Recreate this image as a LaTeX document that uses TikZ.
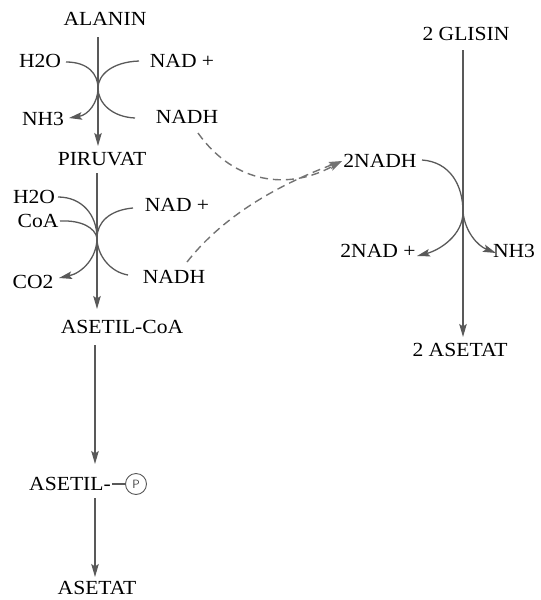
\documentclass[tikz,border=0pt]{standalone}
\usepackage{fontspec}
\setmainfont[FakeStretch=1.08]{Liberation Serif}
\usetikzlibrary{arrows.meta}
\begin{document}
\begin{tikzpicture}[x=1pt,y=-1pt,
  lbl/.style={inner sep=0pt,font=\fontsize{20}{21}\selectfont,text=black},
  ln/.style={draw=black!65,line width=1.3pt},
  arr/.style={ln,-{Stealth[length=13pt,width=7.5pt,inset=2.5pt]}},
  dsh/.style={draw=black!55,line width=1.4pt,dash pattern=on 8pt off 5pt,-{Stealth[length=13pt,width=7.5pt,inset=2.5pt]}}]
\useasboundingbox (0,0) rectangle (541,600);
% left column labels
\node[lbl] (alanin) at (105,19) {ALANIN};
\node[lbl] (h2oA) at (40,61) {H2O};
\node[lbl] (nadA) at (182,61) {NAD +};
\node[lbl] (nh3A) at (43,119) {NH3};
\node[lbl] (nadhA) at (187,117) {NADH};
\node[lbl] (piruvat) at (102,159) {PIRUVAT};
\node[lbl] (h2oB) at (34,197) {H2O};
\node[lbl] (coaB) at (38,221) {CoA};
\node[lbl] (nadB) at (177,205) {NAD +};
\node[lbl] (co2B) at (33,282) {CO2};
\node[lbl] (nadhB) at (174,277) {NADH};
\node[lbl] (asetilcoa) at (122,327) {ASETIL-CoA};
\node[lbl] (asetilp) at (70,484) {ASETIL-};
\node[draw=black!65,line width=0.9pt,circle,minimum size=21pt,inner sep=0pt,font=\sffamily\fontsize{12}{12}\selectfont,text=black!75] (pc) at (136,484) {P};
\node[lbl] (asetat) at (97,588) {ASETAT};
% right column labels
\node[lbl] (glisin) at (466,34) {2 GLISIN};
\node[lbl] (nadh2) at (380,161) {2NADH};
\node[lbl] (nad2) at (378,251) {2NAD +};
\node[lbl] (nh3C) at (514,251) {NH3};
\node[lbl] (asetat2) at (460,350) {2 ASETAT};
% connector end points
\coordinate (a1) at (98,37);   \coordinate (a2) at (98,146);
\coordinate (b1) at (97,173);  \coordinate (b2) at (97,309);
\coordinate (c1) at (95,345);  \coordinate (c2) at (95,464);
\coordinate (d1) at (95,498);  \coordinate (d2) at (95,577);
\coordinate (g1) at (463,50);  \coordinate (g2) at (463,337);
\coordinate (xA) at (98,88);
\coordinate (xB) at (97,238);
\coordinate (xC) at (463,212);
\coordinate (h2oAe) at (66,62);  \coordinate (nh3At) at (69,118);
\coordinate (nadAe) at (139,61); \coordinate (nadhAe) at (135,118);
\coordinate (h2oBe) at (58,197); \coordinate (coaBe) at (60,221);
\coordinate (co2Bt) at (59,278); \coordinate (nadBe) at (133,208);
\coordinate (nadhBe) at (128,275);
\coordinate (nadh2e) at (422,160); \coordinate (nad2t) at (417,256);
\coordinate (nh3Ct) at (496,253);
\coordinate (dA) at (198,133); \coordinate (dB) at (187,262);
\coordinate (dT) at (342,161);
% main arrows
\draw[arr] (a1) -- (a2);
\draw[arr] (b1) -- (b2);
\draw[arr] (c1) -- (c2);
\draw[arr] (d1) -- (d2);
\draw[arr] (g1) -- (g2);
\draw[ln] ([xshift=1pt]asetilp.east) -- (pc.west);
% stage 1 arcs
\draw[arr] (h2oAe) .. controls (88,62) and (98,74) .. (xA) .. controls (98,103) and (88,115) .. (nh3At);
\draw[ln] (nadAe) .. controls (112,62) and (98,75) .. (xA) .. controls (98,103) and (112,117) .. (nadhAe);
% stage 2 arcs
\draw[ln] (h2oBe) .. controls (82,197) and (97,215) .. (xB);
\draw[ln] (coaBe) .. controls (82,220) and (95,228) .. (xB);
\draw[arr] (xB) .. controls (97,258) and (82,273) .. (co2Bt);
\draw[ln] (nadBe) .. controls (110,210) and (97,222) .. (xB) .. controls (97,255) and (110,272) .. (nadhBe);
% right arcs
\draw[ln] (nadh2e) .. controls (450,162) and (463,185) .. (xC);
\draw[arr] (xC) .. controls (463,235) and (440,250) .. (nad2t);
\draw[arr] (xC) .. controls (465,232) and (478,246) .. (nh3Ct);
% dashed transfers
\draw[dsh] (dA) .. controls (235,185) and (290,190) .. (dT);
\draw[dsh] (dB) .. controls (220,220) and (270,188) .. (dT);
\end{tikzpicture}
\end{document}
